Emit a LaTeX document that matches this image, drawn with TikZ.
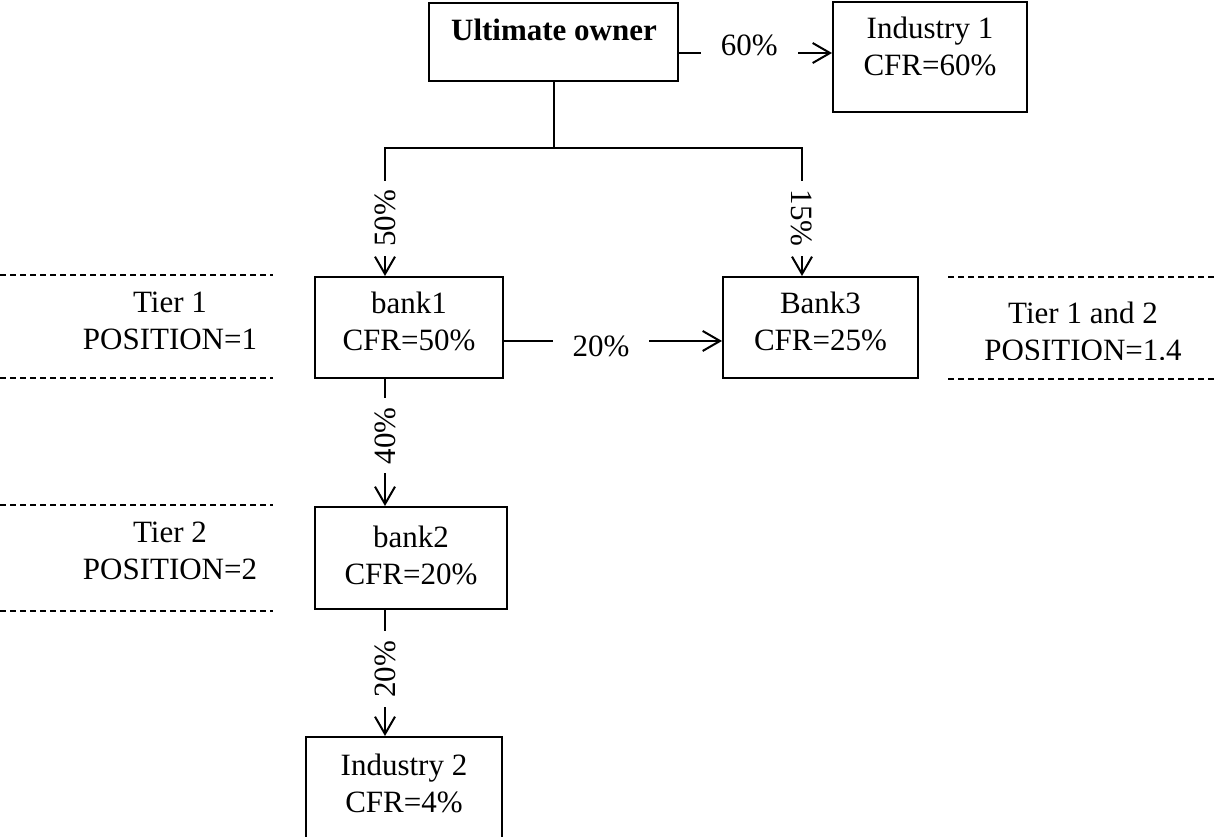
\documentclass[tikz,border=0pt]{standalone}
\usepackage{fontspec}
\setmainfont{Liberation Serif}
\usetikzlibrary{arrows.meta}

\begin{document}
\begin{tikzpicture}[x=0.75pt,y=-0.75pt,
   font=\fontsize{23.25}{27.75}\selectfont,
   box/.style={rectangle,draw,line width=1.5pt,inner sep=0pt},
   txt/.style={anchor=north,align=center,inner sep=0pt},
   pct/.style={fill=white,inner xsep=15pt,inner ysep=2pt},
   vpct/.style={fill=white,inner xsep=7pt,inner ysep=2pt},
   tier/.style={line width=1.1pt,dash pattern=on 4.5pt off 3pt},
   link/.style={line width=1.5pt},
   arr/.style={line width=1.5pt,-{Straight Barb[length=13pt,width=15pt,line width=1.5pt]}}
    ]
  \useasboundingbox (0,0) rectangle (1216,836);

  % -- boxes
  \node[box,minimum width=186.75pt,minimum height=58.5pt] at (553.5,42) (owner) {};
  \node[box,minimum width=145.5pt,minimum height=82.5pt] at (930,57) (ind1) {};
  \node[box,minimum width=141pt,minimum height=75.75pt] at (409,327.5) (bank1) {};
  \node[box,minimum width=146.25pt,minimum height=75.75pt] at (820.5,327.5) (bank3) {};
  \node[box,minimum width=144pt,minimum height=76.5pt] at (411,558) (bank2) {};
  \node[box,minimum width=147pt,minimum height=82.5pt] at (404,792) (ind2) {};

  \node[txt] at (554,19) (owner-txt) {\bfseries Ultimate owner};
  \node[txt] at (930,17) (ind1-txt) {Industry 1\\CFR=60\%};
  \node[txt] at (409,292) (bank1-txt) {bank1\\CFR=50\%};
  \node[txt] at (820.5,292) (bank3-txt) {Bank3\\CFR=25\%};
  \node[txt] at (411,526) (bank2-txt) {bank2\\CFR=20\%};
  \node[txt] at (404,754) (ind2-txt) {Industry 2\\CFR=4\%};

  % -- tiers
  \draw[tier] (0,275) -- (273,275);
  \draw[tier] (0,378) -- (273,378);
  \draw[tier] (0,505) -- (273,505);
  \draw[tier] (0,611) -- (273,611);
  \draw[tier] (948,277) -- (1216,277);
  \draw[tier] (948,379) -- (1216,379);
  \node[txt] at (170,292) (tier1) {Tier 1\\POSITION=1};
  \node[txt] at (170,522) (tier2) {Tier 2\\POSITION=2};
  \begin{scope}
    \clip (940,280) rectangle (1216,359);
    \node[txt] at (1083,302) (tier12) {Tier 1 and 2\\POSITION=1.4};
  \end{scope}

  % -- shares
  \coordinate (forkL) at (385,148);
  \coordinate (forkR) at (802,148);
  \draw[link] (owner.south) -- (owner.south |- forkL);
  \draw[link,line cap=rect] (forkL) -- (forkR);
  \draw[arr] (forkL) -- node[vpct,rotate=90,pos=0.55] (s50) {50\%} (forkL |- bank1.north);
  \draw[arr] (forkR) -- node[vpct,rotate=-90,pos=0.55] (s15) {15\%} (forkR |- bank3.north);
  \draw[arr] ([yshift=-8.25pt]owner.east) -- node[pct,pos=0.46,yshift=6pt] (s60) {60\%}
    ([yshift=-8.25pt]owner.east -| ind1.west);
  \draw[arr] ([yshift=-10.1pt]bank1.east) -- node[pct,pos=0.445,yshift=-4pt] (s20a) {20\%}
    ([yshift=-10.1pt]bank1.east -| bank3.west);
  \draw[arr] (forkL |- bank1.south) -- node[vpct,rotate=90,pos=0.446] (s40) {40\%} (forkL |- bank2.north);
  \draw[arr] (forkL |- bank2.south) -- node[vpct,rotate=90,pos=0.47] (s20b) {20\%} (forkL |- ind2.north);

\end{tikzpicture}
\end{document}
